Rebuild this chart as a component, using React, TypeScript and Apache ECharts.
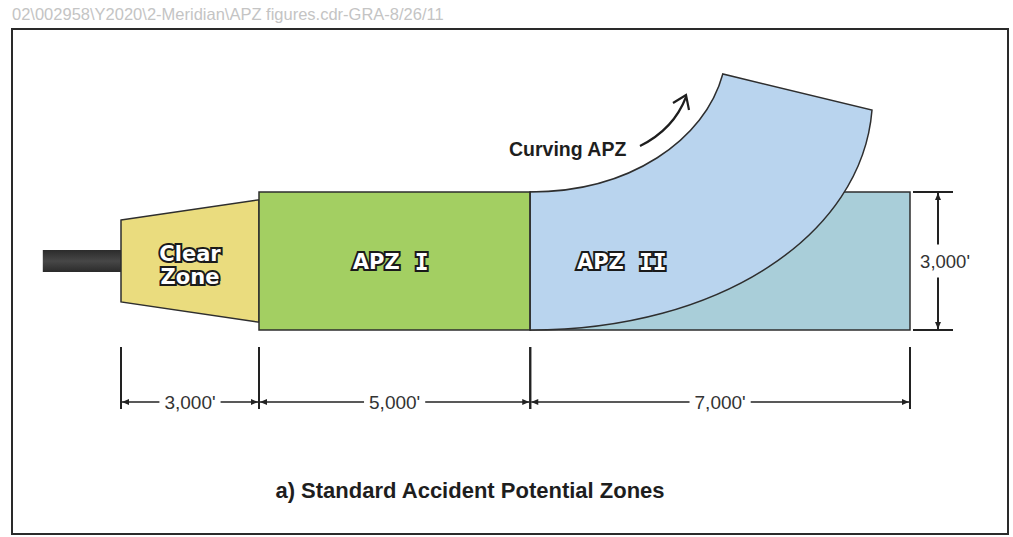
import React, { useEffect, useRef } from "react";
import * as echarts from "echarts";

// ---------------- data ----------------
const headerNote = "02\\002958\\Y2020\\2-Meridian\\APZ figures.cdr-GRA-8/26/11";
const chartTitle = "a) Standard Accident Potential Zones";
const curveLabel = "Curving APZ";

const zoneNames = ["Clear\nZone", "APZ", "APZ"];
const zoneNumerals = ["", "I", "II"];
const zoneLengthsFt = [3000, 5000, 7000];
const zoneWidthFt = 3000;
const lengthLabels = ["3,000'", "5,000'", "7,000'"];
const widthLabel = "3,000'";

// runway stub (ft along axis, relative to runway end) and half width
const runwayFt = [-1700, 0];
const runwayHalfWidthFt = 240;
// clear zone trapezoid half widths at inner / outer end (ft)
const clearZoneHalfWidthsFt = [890, 1330];
// label anchors along the axis (ft) for APZ I / APZ II (left edge of label)
const apzLabelAnchorFt = [4730, 8860];

// curved APZ outline: cubic bezier control points [ft along, ft lateral]
const curveOuterFt = [
  [8000, 1500],
  [9840, 1500],
  [11220, 2630],
  [11550, 4065],
];
const curveInnerFt = [
  [14300, 3283],
  [14115, 565],
  [11500, -1500],
  [8000, -1500],
];

// ---------------- layout / style ----------------
const W = 1013;
const H = 537;
const CENTER_Y = 261;
const PX_PER_FT_Y = 0.046;
const bounds = zoneLengthsFt.reduce((acc: number[], L) => {
  acc.push(acc[acc.length - 1] + L);
  return acc;
}, [0]);
const half = zoneWidthFt / 2;

function axisRange(ft0: number, ft1: number, px0: number, px1: number) {
  const k = (ft1 - ft0) / (px1 - px0);
  return [ft0 - px0 * k, ft0 + (W - px0) * k];
}
// clear zone drawn at its own scale, APZs at theirs (figure is schematic)
const ax0 = axisRange(bounds[0], bounds[1], 121, 259);
const ax1 = axisRange(bounds[1], bounds[3], 259, 910);
const yMax = CENTER_Y / PX_PER_FT_Y;
const yMin = yMax - H / PX_PER_FT_Y;

const OUTLINE = "#2e2e2e";
const zoneColors = ["#eadc7e", "#a3cf62", "#a9ced9"];
const curveColor = "#b9d4ee";
const labelFont = 'bold 21px "DejaVu Sans"';
const numeralFont = 'bold 23px "DejaVu Sans Mono"';
const dimFont = '19px "Liberation Sans", Arial, sans-serif';
const DIM = "#222";

function arrowHead(tipX: number, tipY: number, dx: number, dy: number) {
  const len = 7;
  const hw = 3;
  const bx = tipX - dx * len;
  const by = tipY - dy * len;
  return {
    type: "polygon",
    shape: {
      points: [
        [tipX, tipY],
        [bx - dy * hw, by + dx * hw],
        [bx + dy * hw, by - dx * hw],
      ],
    },
    style: { fill: DIM },
  };
}

function labelText(x: number, y: number, text: string, font: string, align = "center", lineHeight = 24) {
  return {
    type: "text",
    x,
    y,
    style: {
      text,
      font,
      fill: "#ffffff",
      stroke: "#1a1a1a",
      lineWidth: 4,
      align,
      verticalAlign: "middle",
      lineHeight,
    },
  };
}

function dimSegment(api: any, x0: number, x1: number, label: string) {
  const a = api.coord([x0, -half]);
  const b = api.coord([x1, -half]);
  const yLine = a[1] + 72;
  const children: any[] = [];
  [a[0], b[0]].forEach((x) => {
    children.push({
      type: "line",
      shape: { x1: x, y1: a[1] + 17, x2: x, y2: a[1] + 79 },
      style: { stroke: DIM, lineWidth: 2 },
    });
  });
  children.push({
    type: "line",
    shape: { x1: a[0] + 1, y1: yLine, x2: b[0] - 1, y2: yLine },
    style: { stroke: DIM, lineWidth: 1.6 },
  });
  children.push(arrowHead(a[0] + 1, yLine, -1, 0));
  children.push(arrowHead(b[0] - 1, yLine, 1, 0));
  children.push({
    type: "text",
    x: (a[0] + b[0]) / 2,
    y: yLine,
    style: {
      text: label,
      font: dimFont,
      fill: "#333",
      align: "center",
      verticalAlign: "middle",
      backgroundColor: "#ffffff",
      padding: [2, 5],
    },
  });
  return children;
}

export default function App() {
  const ref = useRef<HTMLDivElement>(null);
  useEffect(() => {
    if (!ref.current) return;
    const chart = echarts.init(ref.current, null, { renderer: "svg" });

    const option: any = {
      animation: false,
      backgroundColor: "#ffffff",
      grid: { left: 0, right: 0, top: 0, bottom: 0, outerBoundsMode: "none" },
      xAxis: [
        { type: "value", min: ax0[0], max: ax0[1], show: false },
        { type: "value", min: ax1[0], max: ax1[1], show: false },
      ],
      yAxis: { type: "value", min: yMin, max: yMax, show: false },
      graphic: [
        {
          type: "rect",
          shape: { x: 12, y: 29, width: 996, height: 505 },
          style: { fill: "none", stroke: "#2a2a2a", lineWidth: 2 },
          z: 0,
        },
        {
          type: "text",
          x: 12,
          y: 14,
          style: {
            text: headerNote,
            font: '16.5px "Liberation Sans", Arial, sans-serif',
            fill: "#c4c4c4",
            verticalAlign: "middle",
          },
        },
        {
          type: "text",
          x: 470,
          y: 490,
          style: {
            text: chartTitle,
            font: 'bold 22px "Liberation Sans", Arial, sans-serif',
            fill: "#1e1e1e",
            align: "center",
            verticalAlign: "middle",
          },
        },
        {
          type: "text",
          x: 509,
          y: 149,
          style: {
            text: curveLabel,
            font: 'bold 19.5px "Liberation Sans", Arial, sans-serif',
            fill: "#1e1e1e",
            verticalAlign: "middle",
          },
        },
        {
          type: "bezierCurve",
          shape: { x1: 640, y1: 146, cpx1: 662, cpy1: 135, cpx2: 678, cpy2: 118, x2: 686, y2: 97 },
          style: { stroke: "#1e1e1e", lineWidth: 2.2, fill: "none" },
        },
        {
          type: "polyline",
          shape: { points: [[673, 103], [686, 95], [689, 110]] },
          style: { stroke: "#1e1e1e", lineWidth: 2.2, fill: "none" },
        },
      ],
      series: [
        // runway stub + clear zone (axis 0)
        {
          type: "custom",
          xAxisIndex: 0,
          data: [[bounds[0], bounds[1]]],
          renderItem: (params: any, api: any) => {
            const r0 = api.coord([runwayFt[0], runwayHalfWidthFt]);
            const r1 = api.coord([runwayFt[1], -runwayHalfWidthFt]);
            const x0 = api.value(0);
            const x1 = api.value(1);
            const pts = [
              api.coord([x0, clearZoneHalfWidthsFt[0]]),
              api.coord([x1, clearZoneHalfWidthsFt[1]]),
              api.coord([x1, -clearZoneHalfWidthsFt[1]]),
              api.coord([x0, -clearZoneHalfWidthsFt[0]]),
            ];
            const mid = api.coord([(x0 + x1) / 2, 0]);
            return {
              type: "group",
              children: [
                {
                  type: "rect",
                  shape: { x: r0[0], y: r0[1], width: r1[0] - r0[0], height: r1[1] - r0[1] },
                  style: {
                    fill: new echarts.graphic.LinearGradient(0, 0, 0, 1, [
                      { offset: 0, color: "#2b2b2b" },
                      { offset: 0.5, color: "#474747" },
                      { offset: 1, color: "#2b2b2b" },
                    ]),
                  },
                },
                {
                  type: "polygon",
                  shape: { points: pts },
                  style: { fill: zoneColors[0], stroke: OUTLINE, lineWidth: 1.5 },
                },
                labelText(mid[0], mid[1] + 4, zoneNames[0], labelFont, "center", 23),
              ],
            };
          },
        },
        // APZ I and APZ II rectangles (axis 1)
        {
          type: "custom",
          xAxisIndex: 1,
          data: [
            [bounds[1], bounds[2], 1],
            [bounds[2], bounds[3], 2],
          ],
          renderItem: (params: any, api: any) => {
            const p0 = api.coord([api.value(0), half]);
            const p1 = api.coord([api.value(1), -half]);
            return {
              type: "rect",
              shape: { x: p0[0], y: p0[1], width: p1[0] - p0[0], height: p1[1] - p0[1] },
              style: { fill: zoneColors[api.value(2)], stroke: OUTLINE, lineWidth: 1.5 },
            };
          },
        },
        // curved APZ
        {
          type: "custom",
          xAxisIndex: 1,
          data: [[bounds[2], 0]],
          renderItem: (params: any, api: any) => {
            const o = curveOuterFt.map((p) => api.coord(p));
            const i = curveInnerFt.map((p) => api.coord(p));
            const f = (p: number[]) => `${p[0].toFixed(1)} ${p[1].toFixed(1)}`;
            const d =
              `M ${f(o[0])} C ${f(o[1])} ${f(o[2])} ${f(o[3])} ` +
              `L ${f(i[0])} C ${f(i[1])} ${f(i[2])} ${f(i[3])} Z`;
            return {
              type: "path",
              shape: { pathData: d },
              style: { fill: curveColor, stroke: OUTLINE, lineWidth: 1.5 },
            };
          },
        },
        // APZ labels (axis 1)
        {
          type: "custom",
          xAxisIndex: 1,
          data: [
            [apzLabelAnchorFt[0], 1],
            [apzLabelAnchorFt[1], 2],
          ],
          renderItem: (params: any, api: any) => {
            const idx = api.value(1);
            const p = api.coord([api.value(0), 0]);
            return {
              type: "group",
              children: [
                labelText(p[0], p[1] + 1, zoneNames[idx], labelFont, "left"),
                labelText(p[0] + 62, p[1] + 1, zoneNumerals[idx], numeralFont, "left"),
              ],
            };
          },
        },
        // length dimension for clear zone (axis 0)
        {
          type: "custom",
          xAxisIndex: 0,
          data: [[bounds[0], bounds[1], 0]],
          renderItem: (params: any, api: any) => ({
            type: "group",
            children: dimSegment(api, api.value(0), api.value(1), lengthLabels[api.value(2)]),
          }),
        },
        // length dimensions for APZs (axis 1)
        {
          type: "custom",
          xAxisIndex: 1,
          data: [
            [bounds[1], bounds[2], 1],
            [bounds[2], bounds[3], 2],
          ],
          renderItem: (params: any, api: any) => ({
            type: "group",
            children: dimSegment(api, api.value(0), api.value(1), lengthLabels[api.value(2)]),
          }),
        },
        // width dimension (axis 1)
        {
          type: "custom",
          xAxisIndex: 1,
          data: [[bounds[3], zoneWidthFt]],
          renderItem: (params: any, api: any) => {
            const w = api.value(1);
            const top = api.coord([api.value(0), w / 2]);
            const bot = api.coord([api.value(0), -w / 2]);
            const xl = top[0] + 28;
            return {
              type: "group",
              children: [
                {
                  type: "line",
                  shape: { x1: top[0] + 3, y1: top[1], x2: top[0] + 43, y2: top[1] },
                  style: { stroke: DIM, lineWidth: 2 },
                },
                {
                  type: "line",
                  shape: { x1: bot[0] + 3, y1: bot[1], x2: bot[0] + 43, y2: bot[1] },
                  style: { stroke: DIM, lineWidth: 2 },
                },
                {
                  type: "line",
                  shape: { x1: xl, y1: top[1] + 1, x2: xl, y2: bot[1] - 1 },
                  style: { stroke: DIM, lineWidth: 2 },
                },
                arrowHead(xl, top[1] + 1, 0, -1),
                arrowHead(xl, bot[1] - 1, 0, 1),
                {
                  type: "text",
                  x: xl + 7,
                  y: (top[1] + bot[1]) / 2,
                  style: {
                    text: widthLabel,
                    font: '18.5px "Liberation Sans", Arial, sans-serif',
                    fill: "#333",
                    align: "center",
                    verticalAlign: "middle",
                    backgroundColor: "#ffffff",
                    padding: [7, 1],
                  },
                },
              ],
            };
          },
        },
      ],
    };

    chart.setOption(option);
    return () => chart.dispose();
  }, []);

  return <div ref={ref} style={{ position: "fixed", left: 0, top: 0, width: W, height: H }} />;
}
